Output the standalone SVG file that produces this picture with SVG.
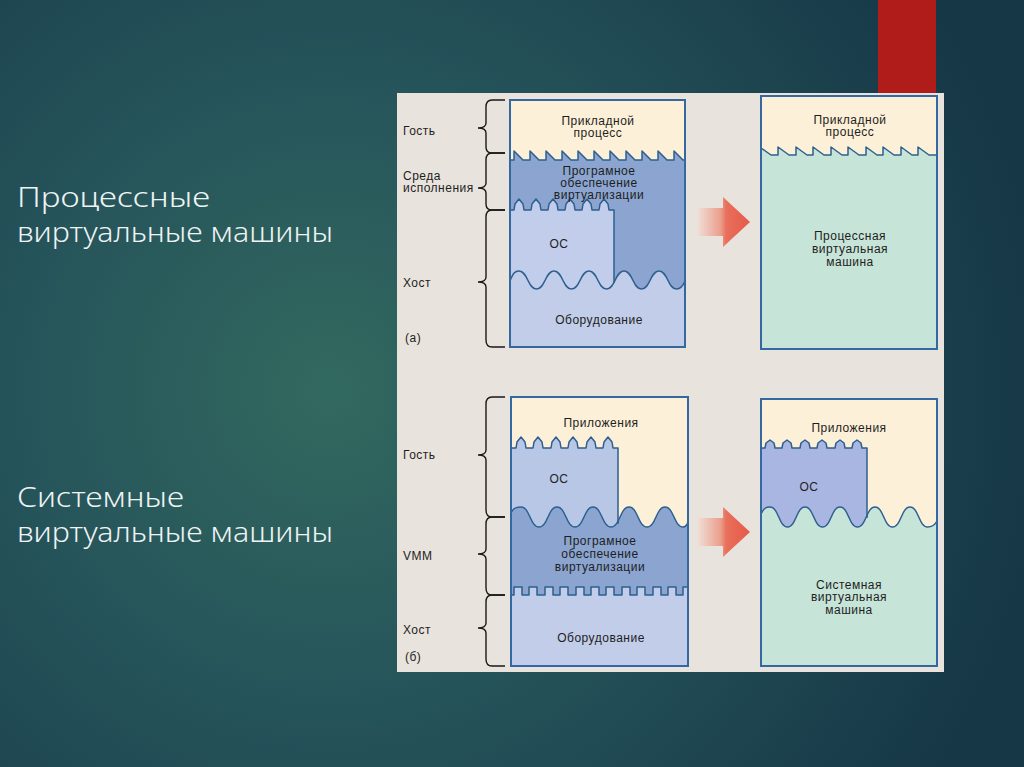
<svg xmlns="http://www.w3.org/2000/svg" width="1024" height="767" viewBox="0 0 1024 767">
<defs>
<radialGradient id="bg" cx="330" cy="390" r="720" gradientUnits="userSpaceOnUse">
<stop offset="0" stop-color="#32695f"/>
<stop offset="0.45" stop-color="#25535a"/>
<stop offset="1" stop-color="#163746"/>
</radialGradient>
<linearGradient id="arr" x1="0" y1="0" x2="1" y2="0">
<stop offset="0" stop-color="#efe0d8"/>
<stop offset="0.45" stop-color="#ec9d8c"/>
<stop offset="0.55" stop-color="#e8705c"/>
<stop offset="1" stop-color="#e65a48"/>
</linearGradient>
<style>
.t{font-family:"Liberation Sans",Arial,sans-serif;font-size:12px;fill:#1e1e1e;letter-spacing:0.5px}
.c{text-anchor:middle}
.title{font-family:"Noto Sans","Open Sans",sans-serif;font-weight:300;font-size:27px;fill:#eef3f3}
.ln{fill:none;stroke:#2d5f8f;stroke-width:1.5;stroke-linejoin:round}
.box{fill:none;stroke:#3468a0;stroke-width:2}
.br{fill:none;stroke:#1a1a1a;stroke-width:1.4}
.cream{fill:#fdf0d8}
.dark{fill:#8ba5d0}
.os{fill:#c1cdea}
.hw{fill:#c1cde9}
.mint{fill:#c7e4d9}
</style>
</defs>
<rect width="1024" height="767" fill="url(#bg)"/>
<rect x="878" y="0" width="58" height="96" fill="#b01c1a"/>

<text class="title" x="17" y="207" textLength="193" lengthAdjust="spacingAndGlyphs">Процессные</text>
<text class="title" x="17" y="242" textLength="316" lengthAdjust="spacingAndGlyphs">виртуальные машины</text>
<text class="title" x="17" y="507" textLength="167" lengthAdjust="spacingAndGlyphs">Системные</text>
<text class="title" x="17" y="542" textLength="316" lengthAdjust="spacingAndGlyphs">виртуальные машины</text>

<rect x="397" y="93" width="547" height="579" fill="#e8e3dc"/>

<g id="braces">
<path class="br" d="M505,100 H492 Q486,100 486,107 V123 Q486,128 478,128 Q486,128 486,133 V147 Q486,153 492,153 H505"/>
<path class="br" d="M505,153 H492 Q486,153 486,160 V183 Q486,188 478,188 Q486,188 486,193 V204 Q486,210 492,210 H505"/>
<path class="br" d="M505,210 H492 Q486,210 486,217 V277 Q486,282 478,282 Q486,282 486,287 V340 Q486,347 492,347 H505"/>
<path class="br" d="M505,397 H492 Q486,397 486,404 V450 Q486,455 478,455 Q486,455 486,460 V510 Q486,517 492,517 H505"/>
<path class="br" d="M505,517 H492 Q486,517 486,524 V549 Q486,554 478,554 Q486,554 486,559 V588 Q486,595 492,595 H505"/>
<path class="br" d="M505,595 H492 Q486,595 486,602 V623 Q486,628 478,628 Q486,628 486,633 V659 Q486,666 492,666 H505"/>
</g>
<g id="side-labels">
<text class="t" x="403" y="135">Гость</text>
<text class="t" x="403" y="180">Среда</text>
<text class="t" x="403" y="192">исполнения</text>
<text class="t" x="403" y="287">Хост</text>
<text class="t" x="405" y="342">(а)</text>
<text class="t" x="403" y="459">Гость</text>
<text class="t" x="403" y="560">VMM</text>
<text class="t" x="403" y="634">Хост</text>
<text class="t" x="405" y="661">(б)</text>
</g>

<g id="process-vm-before">
<rect x="510" y="100" width="175" height="247" class="hw"/>
<rect x="510" y="150" width="175" height="150" class="dark"/>
<path class="os" d="M510,210 L514,210 L515,204 L519,199 L523,204 L524,210 L531,210 L532,204 L536,199 L540,204 L541,210 L548,210 L549,204 L553,199 L557,204 L558,210 L565,210 L566,204 L570,199 L574,204 L575,210 L582,210 L583,204 L587,199 L591,204 L592,210 L599,210 L600,204 L604,199 L608,204 L609,210 L614,210 L614,300 L510,300 Z"/>
<path class="hw" d="M510,281 C513,273 515,271 519,271 C527.75,271 527.75,289 536.5,289 C545.25,289 545.25,271 554,271 C562.75,271 562.75,289 571.5,289 C580.25,289 580.25,271 589,271 C597.75,271 597.75,289 606.5,289 C615.25,289 615.25,271 624,271 C632.75,271 632.75,289 641.5,289 C650.25,289 650.25,271 659,271 C667.75,271 667.75,289 676.5,289 C681,289 683,286 685,281 L685,347 L510,347 Z"/>
<path class="cream" d="M510,160 L514,160 L514,151 L523,160 L530,160 L530,151 L539,160 L546,160 L546,151 L555,160 L562,160 L562,151 L571,160 L578,160 L578,151 L587,160 L594,160 L594,151 L603,160 L610,160 L610,151 L619,160 L626,160 L626,151 L635,160 L642,160 L642,151 L651,160 L658,160 L658,151 L667,160 L674,160 L674,151 L683,160 L685,160 L685,100 L510,100 Z"/>
<path class="ln" d="M510,160 L514,160 L514,151 L523,160 L530,160 L530,151 L539,160 L546,160 L546,151 L555,160 L562,160 L562,151 L571,160 L578,160 L578,151 L587,160 L594,160 L594,151 L603,160 L610,160 L610,151 L619,160 L626,160 L626,151 L635,160 L642,160 L642,151 L651,160 L658,160 L658,151 L667,160 L674,160 L674,151 L683,160 L685,160"/>
<path class="ln" d="M510,210 L514,210 L515,204 L519,199 L523,204 L524,210 L531,210 L532,204 L536,199 L540,204 L541,210 L548,210 L549,204 L553,199 L557,204 L558,210 L565,210 L566,204 L570,199 L574,204 L575,210 L582,210 L583,204 L587,199 L591,204 L592,210 L599,210 L600,204 L604,199 L608,204 L609,210 L614,210 L614,283"/>
<path class="ln" d="M510,281 C513,273 515,271 519,271 C527.75,271 527.75,289 536.5,289 C545.25,289 545.25,271 554,271 C562.75,271 562.75,289 571.5,289 C580.25,289 580.25,271 589,271 C597.75,271 597.75,289 606.5,289 C615.25,289 615.25,271 624,271 C632.75,271 632.75,289 641.5,289 C650.25,289 650.25,271 659,271 C667.75,271 667.75,289 676.5,289 C681,289 683,286 685,281"/>
<rect x="510" y="100" width="175" height="247" class="box"/>
<text class="t c" x="598" y="125">Прикладной</text>
<text class="t c" x="598" y="137">процесс</text>
<text class="t c" x="599" y="175">Програмное</text>
<text class="t c" x="599" y="187">обеспечение</text>
<text class="t c" x="599" y="199">виртуализации</text>
<text class="t c" x="559" y="248">ОС</text>
<text class="t c" x="599" y="324">Оборудование</text>
</g>

<g id="process-vm-after">
<rect x="761" y="96" width="176" height="253" class="mint"/>
<path class="cream" d="M761,148 L771,155 L778,155 L778,147 L789,155 L796,155 L796,147 L807,155 L813,155 L813,147 L824,155 L831,155 L831,147 L842,155 L848,155 L848,147 L859,155 L866,155 L866,147 L877,155 L883,155 L883,147 L894,155 L901,155 L901,147 L912,155 L918,155 L918,147 L929,155 L937,155 L937,96 L761,96 Z"/>
<path class="ln" d="M761,148 L771,155 L778,155 L778,147 L789,155 L796,155 L796,147 L807,155 L813,155 L813,147 L824,155 L831,155 L831,147 L842,155 L848,155 L848,147 L859,155 L866,155 L866,147 L877,155 L883,155 L883,147 L894,155 L901,155 L901,147 L912,155 L918,155 L918,147 L929,155 L937,155"/>
<rect x="761" y="96" width="176" height="253" class="box"/>
<text class="t c" x="850" y="124">Прикладной</text>
<text class="t c" x="850" y="136">процесс</text>
<text class="t c" x="850" y="240">Процессная</text>
<text class="t c" x="850" y="253">виртуальная</text>
<text class="t c" x="850" y="266">машина</text>
</g>

<g id="system-vm-before">
<rect x="511" y="397" width="177" height="269" class="cream"/>
<path fill="#b9c7e7" d="M511,448 L516,448 L517,442 L521,437 L525,442 L526,448 L533,448 L534,442 L538,437 L542,442 L543,448 L551,448 L552,442 L556,437 L560,442 L561,448 L568,448 L569,442 L573,437 L577,442 L578,448 L586,448 L587,442 L591,437 L595,442 L596,448 L603,448 L604,442 L608,437 L612,442 L613,448 L618,448 L618,530 L511,530 Z"/>
<path class="dark" d="M511,513 C513,508 516,507 521,507 C530,507 530,527 539,527 C548,527 548,507 557,507 C566,507 566,527 575,527 C584,527 584,507 593,507 C602,507 602,527 611,527 C620,527 620,507 629,507 C638,507 638,527 647,527 C656,527 656,507 665,507 C674,507 674,527 683,527 C685.5,527 687,525 688,522 L688,600 L511,600 Z"/>
<path class="hw" d="M511,595 L514,595 L514,587 L522,587 L522,595 L529,595 L529,587 L537,587 L537,595 L545,595 L545,587 L553,587 L553,595 L560,595 L560,587 L568,587 L568,595 L576,595 L576,587 L584,587 L584,595 L591,595 L591,587 L599,587 L599,595 L606,595 L606,587 L614,587 L614,595 L622,595 L622,587 L630,587 L630,595 L637,595 L637,587 L645,587 L645,595 L653,595 L653,587 L661,587 L661,595 L668,595 L668,587 L676,587 L676,595 L683,595 L683,587 L688,587 L688,666 L511,666 Z"/>
<path class="ln" d="M511,595 L514,595 L514,587 L522,587 L522,595 L529,595 L529,587 L537,587 L537,595 L545,595 L545,587 L553,587 L553,595 L560,595 L560,587 L568,587 L568,595 L576,595 L576,587 L584,587 L584,595 L591,595 L591,587 L599,587 L599,595 L606,595 L606,587 L614,587 L614,595 L622,595 L622,587 L630,587 L630,595 L637,595 L637,587 L645,587 L645,595 L653,595 L653,587 L661,587 L661,595 L668,595 L668,587 L676,587 L676,595 L683,595 L683,587 L688,587"/>
<path class="ln" d="M511,448 L516,448 L517,442 L521,437 L525,442 L526,448 L533,448 L534,442 L538,437 L542,442 L543,448 L551,448 L552,442 L556,437 L560,442 L561,448 L568,448 L569,442 L573,437 L577,442 L578,448 L586,448 L587,442 L591,437 L595,442 L596,448 L603,448 L604,442 L608,437 L612,442 L613,448 L618,448 L618,524"/>
<path class="ln" d="M511,513 C513,508 516,507 521,507 C530,507 530,527 539,527 C548,527 548,507 557,507 C566,507 566,527 575,527 C584,527 584,507 593,507 C602,507 602,527 611,527 C620,527 620,507 629,507 C638,507 638,527 647,527 C656,527 656,507 665,507 C674,507 674,527 683,527 C685.5,527 687,525 688,522"/>
<rect x="511" y="397" width="177" height="269" class="box"/>
<text class="t c" x="601" y="427">Приложения</text>
<text class="t c" x="559" y="483">ОС</text>
<text class="t c" x="600" y="545">Програмное</text>
<text class="t c" x="600" y="558">обеспечение</text>
<text class="t c" x="600" y="571">виртуализации</text>
<text class="t c" x="601" y="642">Оборудование</text>
</g>

<g id="system-vm-after">
<rect x="761" y="399" width="176" height="267" class="cream"/>
<path fill="#aab6e2" d="M761,448 L765,448 L766,443 L770,440 L774,443 L775,448 L782,448 L783,443 L787,440 L791,443 L792,448 L800,448 L801,443 L805,440 L809,443 L810,448 L817,448 L818,443 L822,440 L826,443 L827,448 L835,448 L836,443 L840,440 L844,443 L845,448 L852,448 L853,443 L857,440 L861,443 L862,448 L867,448 L867,530 L761,530 Z"/>
<path class="mint" d="M761,514 C764,508 766,507 770,507 C778.75,507 778.75,527 787.5,527 C796.25,527 796.25,507 805,507 C813.75,507 813.75,527 822.5,527 C831.25,527 831.25,507 840,507 C848.75,507 848.75,527 857.5,527 C866.25,527 866.25,507 875,507 C883.75,507 883.75,527 892.5,527 C901.25,527 901.25,507 910,507 C918.75,507 918.75,527 927.5,527 C932,527 935,525 937,521 L937,666 L761,666 Z"/>
<path class="ln" d="M761,448 L765,448 L766,443 L770,440 L774,443 L775,448 L782,448 L783,443 L787,440 L791,443 L792,448 L800,448 L801,443 L805,440 L809,443 L810,448 L817,448 L818,443 L822,440 L826,443 L827,448 L835,448 L836,443 L840,440 L844,443 L845,448 L852,448 L853,443 L857,440 L861,443 L862,448 L867,448 L867,518"/>
<path class="ln" d="M761,514 C764,508 766,507 770,507 C778.75,507 778.75,527 787.5,527 C796.25,527 796.25,507 805,507 C813.75,507 813.75,527 822.5,527 C831.25,527 831.25,507 840,507 C848.75,507 848.75,527 857.5,527 C866.25,527 866.25,507 875,507 C883.75,507 883.75,527 892.5,527 C901.25,527 901.25,507 910,507 C918.75,507 918.75,527 927.5,527 C932,527 935,525 937,521"/>
<rect x="761" y="399" width="176" height="267" class="box"/>
<text class="t c" x="849" y="432">Приложения</text>
<text class="t c" x="809" y="491">ОС</text>
<text class="t c" x="849" y="589">Системная</text>
<text class="t c" x="849" y="601">виртуальная</text>
<text class="t c" x="849" y="614">машина</text>
</g>

<g id="connectors">
<path fill="url(#arr)" d="M697,208 H723 V197 L750,222 L723,247 V236 H697 Z"/>
<path fill="url(#arr)" d="M697,518 H723 V507 L750,532 L723,557 V546 H697 Z"/>
</g>
</svg>
